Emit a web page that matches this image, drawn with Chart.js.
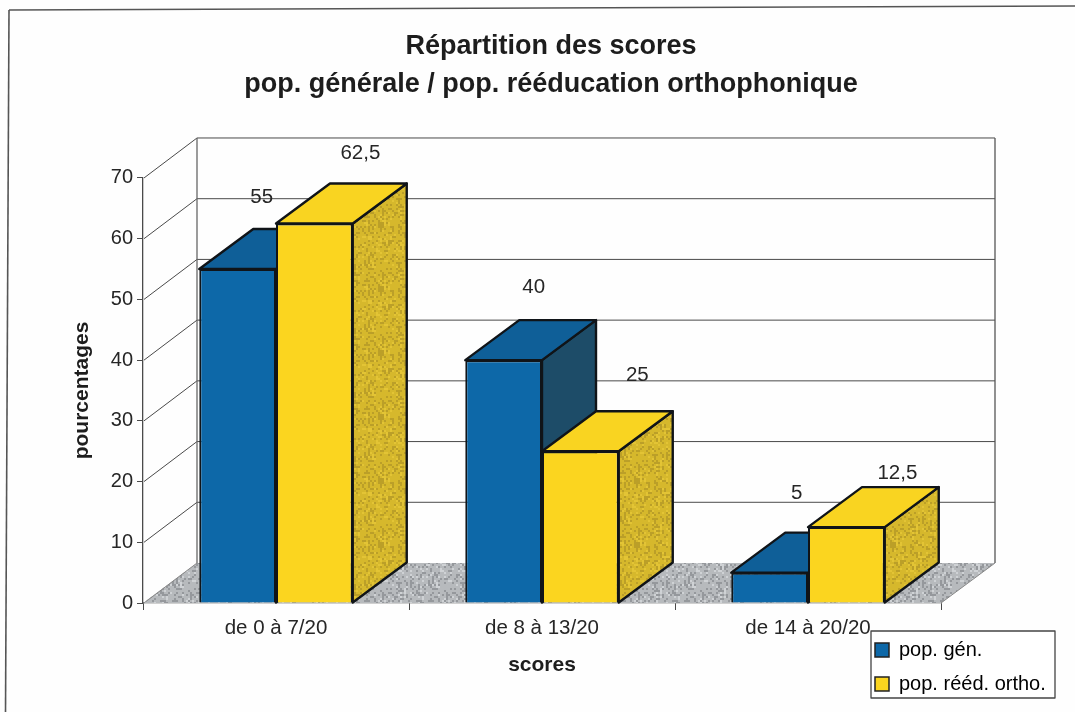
<!DOCTYPE html>
<html lang="fr">
<head>
<meta charset="utf-8">
<title>Répartition des scores</title>
<style>html,body{margin:0;padding:0;background:#fff}canvas{display:block}</style>
<script src="https://cdn.jsdelivr.net/npm/chart.js@4"></script>
</head>
<body>
<canvas id="c" width="1075" height="712"></canvas>
<script>
const categories = ["de 0 à 7/20", "de 8 à 13/20", "de 14 à 20/20"];
const seriesNames = ["pop. gén.", "pop. rééd. ortho."];
const popGenerale = [55, 40, 5];
const popReeducation = [62.5, 25, 12.5];
const yTickMax = 70;
const yTickStep = 10;
const chartTitle = ["Répartition des scores", "pop. générale / pop. rééducation orthophonique"];
const xTitle = "scores";
const yTitle = "pourcentages";

const FONT = '"Liberation Sans", Arial, sans-serif';
const DX = 54, DY = 40;
const TEXT = '#262626', LINE = '#4a4a4a', EDGE = '#101418';
const COLORS = {
  front: ['#0d68a8', '#fbd51f'],
  top: ['#0f5f98', '#f9d421'],
  side: ['#1d4c68', null]
};
// label offsets from each bar's top centre, as the reference's labels wander
const labelOffsets = [
  [[24, -72], [46, -70]],
  [[30, -73], [57, -76]],
  [[27, -79], [51, -54]]
];

// fixed stipple texture for the scanned look of the shaded faces
function noiseTile(base, dark, light) {
  const size = 64;
  const t = document.createElement('canvas');
  t.width = t.height = size;
  const g = t.getContext('2d');
  g.fillStyle = base; g.fillRect(0, 0, size, size);
  for (let y = 0; y < size; y += 2) for (let x = 0; x < size; x += 2) {
    let h = (x * 374761393 + y * 668265263) | 0;
    h = Math.imul(h ^ (h >>> 13), 1274126177);
    h = (h ^ (h >>> 16)) >>> 0;
    const k = h % 8;
    if (k < 2) { g.fillStyle = dark; g.fillRect(x, y, 2, 2); }
    else if (k === 6) { g.fillStyle = light; g.fillRect(x, y, 2, 2); }
  }
  return g.createPattern(t, 'repeat');
}

function poly(ctx, pts, fill, stroke, lw) {
  ctx.beginPath();
  pts.forEach((p, i) => i ? ctx.lineTo(p[0], p[1]) : ctx.moveTo(p[0], p[1]));
  ctx.closePath();
  if (fill) { ctx.fillStyle = fill; ctx.fill(); }
  if (stroke) { ctx.strokeStyle = stroke; ctx.lineWidth = lw; ctx.lineJoin = 'round'; ctx.stroke(); }
}
function seg(ctx, x1, y1, x2, y2, color, lw) {
  ctx.beginPath(); ctx.moveTo(x1, y1); ctx.lineTo(x2, y2);
  ctx.strokeStyle = color; ctx.lineWidth = lw; ctx.stroke();
}

const scene3d = {
  id: 'scene3d',
  afterLayout(chart) {
    const t = chart.titleBlock;
    t.left = 0; t.right = 1102;
    const l = chart.legend;
    l.left = 861; l.top = 626; l.right = 1060; l.bottom = 760;
    l.width = l.right - l.left; l.height = l.bottom - l.top;
  },
  beforeDraw(chart) {
    const ctx = chart.ctx;
    ctx.save();
    ctx.fillStyle = '#fefefe'; ctx.fillRect(0, 0, 1075, 712);
    seg(ctx, 9, 10, 1075, 6, '#555', 1.4);
    seg(ctx, 9, 10, 5.5, 712, '#555', 1.6);
    poly(ctx, [[871, 631], [1055, 631], [1055, 698], [871, 698]], '#fff', '#444', 1.3);
    ctx.restore();
  },
  beforeDatasetsDraw(chart) {
    const ctx = chart.ctx, x = chart.scales.x, y = chart.scales.y;
    const L = x.left, R = x.right, B = y.getPixelForValue(0), T = y.getPixelForValue(yTickMax);
    ctx.save();
    const floor = noiseTile('#b7babd', '#95989c', '#cfd2d5');
    poly(ctx, [[L, B], [R, B], [R + DX, B - DY], [L + DX, B - DY]], floor);
    seg(ctx, R, B, R + DX, B - DY, '#888', 1);
    for (let v = yTickStep; v <= yTickMax; v += yTickStep) {
      const p = y.getPixelForValue(v);
      seg(ctx, L + 1, p, L + DX, p - DY, LINE, 1);
      seg(ctx, L + DX, p - DY, R + DX, p - DY, LINE, 1);
    }
    seg(ctx, L + 1, B, L + DX, B - DY, '#888', 1);
    seg(ctx, L + DX, T - DY, L + DX, B - DY, '#666', 1.3);
    seg(ctx, R + DX, T - DY, R + DX, B - DY, '#555', 1.3);

    const sideY = noiseTile('#d6b82c', '#bb9f28', '#e3c435');
    chart.data.datasets.forEach((ds, di) => {
      chart.getDatasetMeta(di).data.forEach(bar => {
        const l = bar.x - bar.width / 2, r = bar.x + bar.width / 2, t = bar.y, b = bar.base;
        poly(ctx, [[r, t], [r + DX, t - DY], [r + DX, b - DY], [r, b]], di === 0 ? COLORS.side[0] : sideY, EDGE, 2.4);
        poly(ctx, [[l, t], [l + DX, t - DY], [r + DX, t - DY], [r, t]], COLORS.top[di], EDGE, 2.4);
      });
    });
    ctx.restore();
  },
  afterDatasetsDraw(chart) {
    const ctx = chart.ctx;
    ctx.save();
    ctx.font = '20.5px ' + FONT;
    ctx.fillStyle = TEXT;
    ctx.textAlign = 'center';
    ctx.textBaseline = 'middle';
    chart.data.datasets.forEach((ds, di) => {
      chart.getDatasetMeta(di).data.forEach((bar, i) => {
        const o = labelOffsets[i][di];
        ctx.fillText(String(ds.data[i]).replace('.', ','), bar.x + o[0], bar.y + o[1]);
      });
    });
    ctx.restore();
  }
};

new Chart(document.getElementById('c'), {
  type: 'bar',
  plugins: [scene3d],
  data: {
    labels: categories,
    datasets: [
      { label: seriesNames[0], data: popGenerale, backgroundColor: COLORS.front[0], borderColor: EDGE, borderWidth: 2, categoryPercentage: 0.577, barPercentage: 1 },
      { label: seriesNames[1], data: popReeducation, backgroundColor: COLORS.front[1], borderColor: EDGE, borderWidth: 2, categoryPercentage: 0.577, barPercentage: 1 }
    ]
  },
  options: {
    responsive: false,
    animation: false,
    events: [],
    layout: { padding: { left: 66, right: 134, top: 28, bottom: 30 } },
    plugins: {
      tooltip: { enabled: false },
      title: {
        display: true,
        text: chartTitle,
        color: '#1d1d1d',
        font: { family: FONT, size: 27, weight: 'bold', lineHeight: 1.407 },
        padding: { top: 0, bottom: 74 }
      },
      legend: {
        display: true,
        position: 'chartArea',
        align: 'start',
        labels: {
          color: TEXT,
          font: { family: FONT, size: 20 },
          boxWidth: 14, boxHeight: 14, padding: 14,
          generateLabels(chart) {
            return chart.data.datasets.map((d, i) => ({
              text: d.label, fillStyle: d.backgroundColor, strokeStyle: '#222',
              lineWidth: 1.5, datasetIndex: i, hidden: false
            }));
          }
        }
      }
    },
    scales: {
      x: {
        offset: true,
        afterFit(s) { s.height = 79; },
        border: { display: true, color: LINE, width: 1.3 },
        grid: { display: true, drawOnChartArea: false, drawTicks: true, tickLength: 7, color: LINE, offset: true },
        ticks: { color: TEXT, font: { family: FONT, size: 20.5 }, padding: 6, maxRotation: 0, autoSkip: false },
        title: { display: true, text: xTitle, color: '#1d1d1d', font: { family: FONT, size: 21, weight: 'bold' }, padding: { top: 0, bottom: 4 } }
      },
      y: {
        min: 0, max: yTickMax,
        afterFit(s) { s.width = 143 - 66; },
        border: { display: true, color: LINE, width: 1.3 },
        grid: { display: true, drawOnChartArea: false, drawTicks: true, tickLength: 6, color: LINE },
        ticks: { stepSize: yTickStep, color: TEXT, font: { family: FONT, size: 20 }, padding: 4 },
        title: { display: true, text: yTitle, color: '#1d1d1d', font: { family: FONT, size: 21, weight: 'bold' }, padding: { top: 4, bottom: 0 } }
      }
    }
  }
});
</script>
</body>
</html>
